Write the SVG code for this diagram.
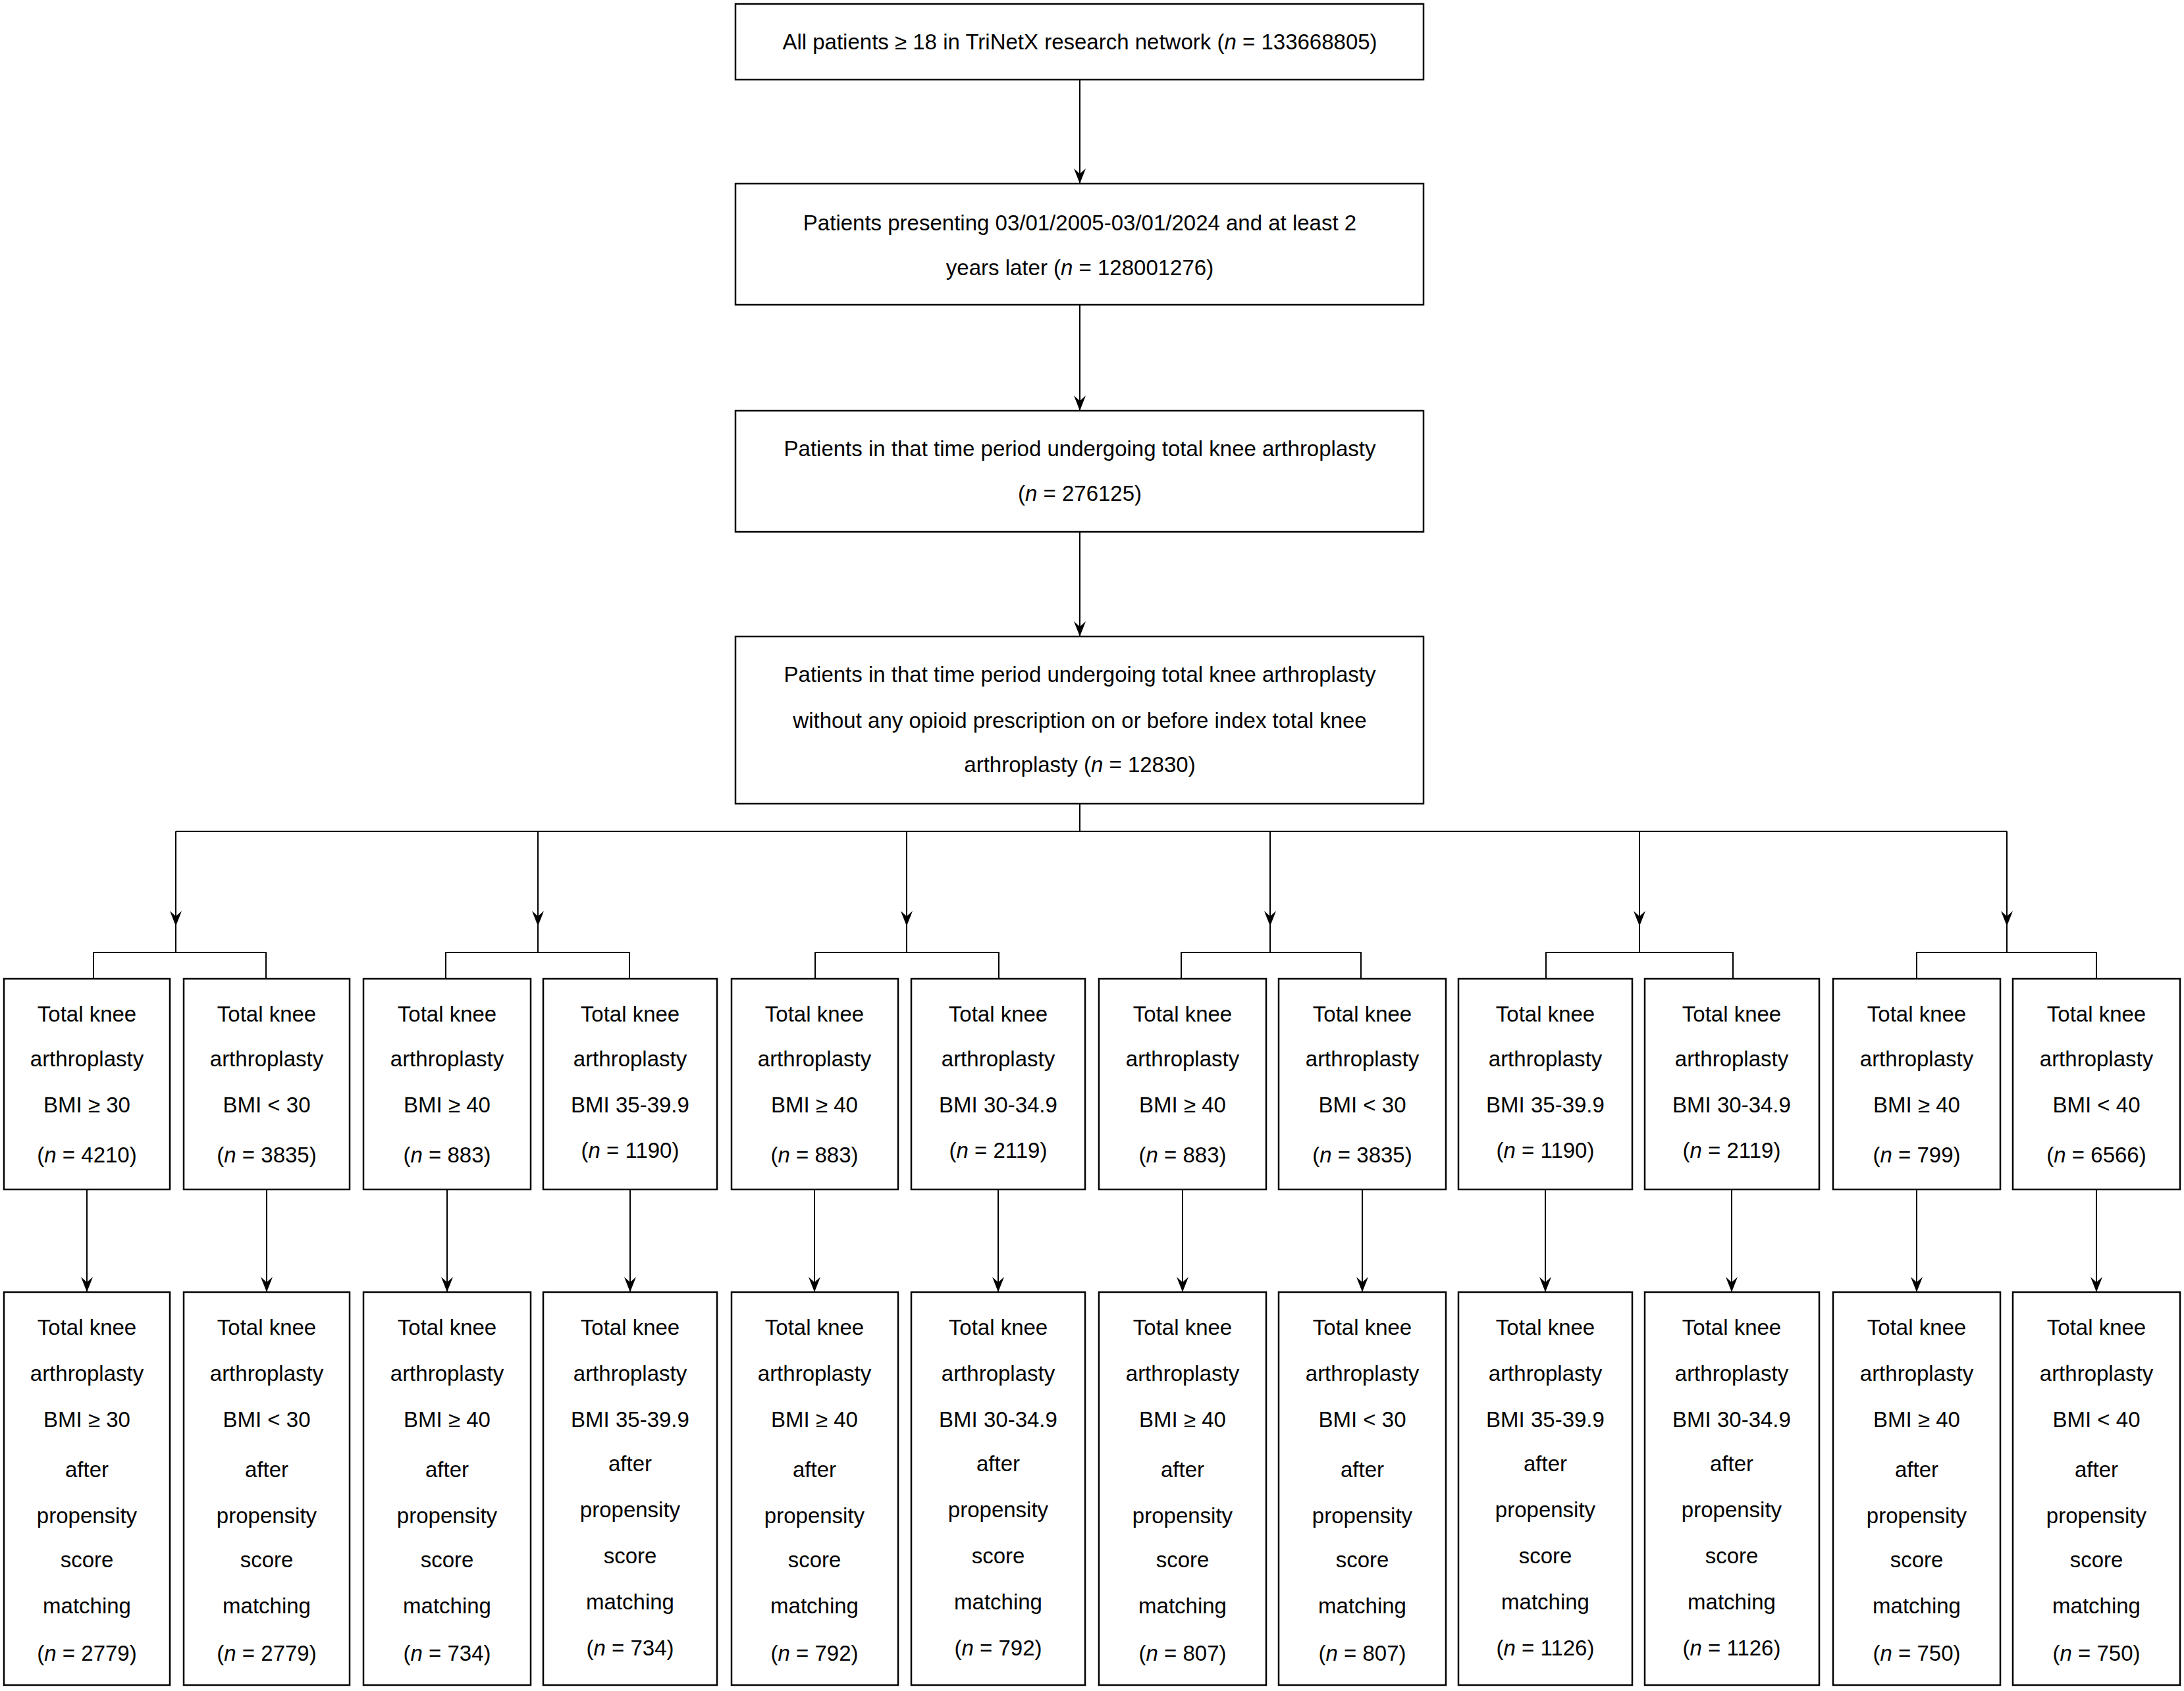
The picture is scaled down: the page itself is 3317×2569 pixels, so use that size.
<svg xmlns="http://www.w3.org/2000/svg" width="3317" height="2569" viewBox="0 0 3317 2569">
<style>
rect{fill:#fff;stroke:#000;stroke-width:2.5}
text{font-family:"Liberation Sans",Arial,sans-serif;font-size:33px;text-anchor:middle;fill:#000}
.i{font-style:italic}
#connectors line,#connectors polyline{stroke:#000;stroke-width:2;fill:none}
</style>
<defs><marker id="ah" markerWidth="18" markerHeight="24" refX="9" refY="23" orient="0" markerUnits="userSpaceOnUse"><path d="M0,0 L9,23 L18,0 L9,8 Z" fill="#000"/></marker></defs>
<rect width="3317" height="2569" style="stroke:none"/>
<g id="connectors">
<line x1="1640" y1="121" x2="1640" y2="279" marker-end="url(#ah)"/>
<line x1="1640" y1="463" x2="1640" y2="624" marker-end="url(#ah)"/>
<line x1="1640" y1="808" x2="1640" y2="967" marker-end="url(#ah)"/>
<line x1="1640" y1="1221" x2="1640" y2="1263"/>
<line x1="267" y1="1263" x2="3048" y2="1263"/>
<line x1="267" y1="1263" x2="267" y2="1407" marker-end="url(#ah)"/>
<line x1="817" y1="1263" x2="817" y2="1407" marker-end="url(#ah)"/>
<line x1="1377" y1="1263" x2="1377" y2="1407" marker-end="url(#ah)"/>
<line x1="1929" y1="1263" x2="1929" y2="1407" marker-end="url(#ah)"/>
<line x1="2490" y1="1263" x2="2490" y2="1407" marker-end="url(#ah)"/>
<line x1="3048" y1="1263" x2="3048" y2="1407" marker-end="url(#ah)"/>
<line x1="267" y1="1407" x2="267" y2="1447"/>
<line x1="817" y1="1407" x2="817" y2="1447"/>
<line x1="1377" y1="1407" x2="1377" y2="1447"/>
<line x1="1929" y1="1407" x2="1929" y2="1447"/>
<line x1="2490" y1="1407" x2="2490" y2="1447"/>
<line x1="3048" y1="1407" x2="3048" y2="1447"/>
<polyline points="142,1487 142,1447 404,1447 404,1487"/>
<polyline points="677,1487 677,1447 956,1447 956,1487"/>
<polyline points="1238,1487 1238,1447 1517,1447 1517,1487"/>
<polyline points="1794,1487 1794,1447 2067,1447 2067,1487"/>
<polyline points="2348,1487 2348,1447 2632,1447 2632,1487"/>
<polyline points="2911,1487 2911,1447 3184,1447 3184,1487"/>
<line x1="132" y1="1807" x2="132" y2="1963" marker-end="url(#ah)"/>
<line x1="405" y1="1807" x2="405" y2="1963" marker-end="url(#ah)"/>
<line x1="679" y1="1807" x2="679" y2="1963" marker-end="url(#ah)"/>
<line x1="957" y1="1807" x2="957" y2="1963" marker-end="url(#ah)"/>
<line x1="1237" y1="1807" x2="1237" y2="1963" marker-end="url(#ah)"/>
<line x1="1516" y1="1807" x2="1516" y2="1963" marker-end="url(#ah)"/>
<line x1="1796" y1="1807" x2="1796" y2="1963" marker-end="url(#ah)"/>
<line x1="2069" y1="1807" x2="2069" y2="1963" marker-end="url(#ah)"/>
<line x1="2347" y1="1807" x2="2347" y2="1963" marker-end="url(#ah)"/>
<line x1="2630" y1="1807" x2="2630" y2="1963" marker-end="url(#ah)"/>
<line x1="2911" y1="1807" x2="2911" y2="1963" marker-end="url(#ah)"/>
<line x1="3184" y1="1807" x2="3184" y2="1963" marker-end="url(#ah)"/>
</g>
<g id="n1"><rect x="1117" y="6" width="1045" height="115"/><text x="1640" y="75">All patients ≥ 18 in TriNetX research network (<tspan class="i">n</tspan> = 133668805)</text></g>
<g id="n2"><rect x="1117" y="279" width="1045" height="184"/><text x="1640" y="350">Patients presenting 03/01/2005-03/01/2024 and at least 2</text><text x="1640" y="418">years later (<tspan class="i">n</tspan> = 128001276)</text></g>
<g id="n3"><rect x="1117" y="624" width="1045" height="184"/><text x="1640" y="693">Patients in that time period undergoing total knee arthroplasty</text><text x="1640" y="761">(<tspan class="i">n</tspan> = 276125)</text></g>
<g id="n4"><rect x="1117" y="967" width="1045" height="254"/><text x="1640" y="1036">Patients in that time period undergoing total knee arthroplasty</text><text x="1640" y="1106">without any opioid prescription on or before index total knee</text><text x="1640" y="1173">arthroplasty (<tspan class="i">n</tspan> = 12830)</text></g>
<g id="s1"><rect x="6" y="1487" width="252" height="320"/><text x="132" y="1552">Total knee</text><text x="132" y="1620">arthroplasty</text><text x="132" y="1690">BMI ≥ 30</text><text x="132" y="1766">(<tspan class="i">n</tspan> = 4210)</text></g>
<g id="s2"><rect x="279" y="1487" width="252" height="320"/><text x="405" y="1552">Total knee</text><text x="405" y="1620">arthroplasty</text><text x="405" y="1690">BMI &lt; 30</text><text x="405" y="1766">(<tspan class="i">n</tspan> = 3835)</text></g>
<g id="s3"><rect x="552" y="1487" width="254" height="320"/><text x="679" y="1552">Total knee</text><text x="679" y="1620">arthroplasty</text><text x="679" y="1690">BMI ≥ 40</text><text x="679" y="1766">(<tspan class="i">n</tspan> = 883)</text></g>
<g id="s4"><rect x="825" y="1487" width="264" height="320"/><text x="957" y="1552">Total knee</text><text x="957" y="1620">arthroplasty</text><text x="957" y="1690">BMI 35-39.9</text><text x="957" y="1759">(<tspan class="i">n</tspan> = 1190)</text></g>
<g id="s5"><rect x="1111" y="1487" width="253" height="320"/><text x="1237" y="1552">Total knee</text><text x="1237" y="1620">arthroplasty</text><text x="1237" y="1690">BMI ≥ 40</text><text x="1237" y="1766">(<tspan class="i">n</tspan> = 883)</text></g>
<g id="s6"><rect x="1384" y="1487" width="264" height="320"/><text x="1516" y="1552">Total knee</text><text x="1516" y="1620">arthroplasty</text><text x="1516" y="1690">BMI 30-34.9</text><text x="1516" y="1759">(<tspan class="i">n</tspan> = 2119)</text></g>
<g id="s7"><rect x="1669" y="1487" width="254" height="320"/><text x="1796" y="1552">Total knee</text><text x="1796" y="1620">arthroplasty</text><text x="1796" y="1690">BMI ≥ 40</text><text x="1796" y="1766">(<tspan class="i">n</tspan> = 883)</text></g>
<g id="s8"><rect x="1942" y="1487" width="254" height="320"/><text x="2069" y="1552">Total knee</text><text x="2069" y="1620">arthroplasty</text><text x="2069" y="1690">BMI &lt; 30</text><text x="2069" y="1766">(<tspan class="i">n</tspan> = 3835)</text></g>
<g id="s9"><rect x="2215" y="1487" width="264" height="320"/><text x="2347" y="1552">Total knee</text><text x="2347" y="1620">arthroplasty</text><text x="2347" y="1690">BMI 35-39.9</text><text x="2347" y="1759">(<tspan class="i">n</tspan> = 1190)</text></g>
<g id="s10"><rect x="2498" y="1487" width="265" height="320"/><text x="2630" y="1552">Total knee</text><text x="2630" y="1620">arthroplasty</text><text x="2630" y="1690">BMI 30-34.9</text><text x="2630" y="1759">(<tspan class="i">n</tspan> = 2119)</text></g>
<g id="s11"><rect x="2784" y="1487" width="254" height="320"/><text x="2911" y="1552">Total knee</text><text x="2911" y="1620">arthroplasty</text><text x="2911" y="1690">BMI ≥ 40</text><text x="2911" y="1766">(<tspan class="i">n</tspan> = 799)</text></g>
<g id="s12"><rect x="3057" y="1487" width="254" height="320"/><text x="3184" y="1552">Total knee</text><text x="3184" y="1620">arthroplasty</text><text x="3184" y="1690">BMI &lt; 40</text><text x="3184" y="1766">(<tspan class="i">n</tspan> = 6566)</text></g>
<g id="b1"><rect x="6" y="1963" width="252" height="597"/><text x="132" y="2028">Total knee</text><text x="132" y="2098">arthroplasty</text><text x="132" y="2168">BMI ≥ 30</text><text x="132" y="2244">after</text><text x="132" y="2314">propensity</text><text x="132" y="2381">score</text><text x="132" y="2451">matching</text><text x="132" y="2523">(<tspan class="i">n</tspan> = 2779)</text></g>
<g id="b2"><rect x="279" y="1963" width="252" height="597"/><text x="405" y="2028">Total knee</text><text x="405" y="2098">arthroplasty</text><text x="405" y="2168">BMI &lt; 30</text><text x="405" y="2244">after</text><text x="405" y="2314">propensity</text><text x="405" y="2381">score</text><text x="405" y="2451">matching</text><text x="405" y="2523">(<tspan class="i">n</tspan> = 2779)</text></g>
<g id="b3"><rect x="552" y="1963" width="254" height="597"/><text x="679" y="2028">Total knee</text><text x="679" y="2098">arthroplasty</text><text x="679" y="2168">BMI ≥ 40</text><text x="679" y="2244">after</text><text x="679" y="2314">propensity</text><text x="679" y="2381">score</text><text x="679" y="2451">matching</text><text x="679" y="2523">(<tspan class="i">n</tspan> = 734)</text></g>
<g id="b4"><rect x="825" y="1963" width="264" height="597"/><text x="957" y="2028">Total knee</text><text x="957" y="2098">arthroplasty</text><text x="957" y="2168">BMI 35-39.9</text><text x="957" y="2235">after</text><text x="957" y="2305">propensity</text><text x="957" y="2375">score</text><text x="957" y="2445">matching</text><text x="957" y="2515">(<tspan class="i">n</tspan> = 734)</text></g>
<g id="b5"><rect x="1111" y="1963" width="253" height="597"/><text x="1237" y="2028">Total knee</text><text x="1237" y="2098">arthroplasty</text><text x="1237" y="2168">BMI ≥ 40</text><text x="1237" y="2244">after</text><text x="1237" y="2314">propensity</text><text x="1237" y="2381">score</text><text x="1237" y="2451">matching</text><text x="1237" y="2523">(<tspan class="i">n</tspan> = 792)</text></g>
<g id="b6"><rect x="1384" y="1963" width="264" height="597"/><text x="1516" y="2028">Total knee</text><text x="1516" y="2098">arthroplasty</text><text x="1516" y="2168">BMI 30-34.9</text><text x="1516" y="2235">after</text><text x="1516" y="2305">propensity</text><text x="1516" y="2375">score</text><text x="1516" y="2445">matching</text><text x="1516" y="2515">(<tspan class="i">n</tspan> = 792)</text></g>
<g id="b7"><rect x="1669" y="1963" width="254" height="597"/><text x="1796" y="2028">Total knee</text><text x="1796" y="2098">arthroplasty</text><text x="1796" y="2168">BMI ≥ 40</text><text x="1796" y="2244">after</text><text x="1796" y="2314">propensity</text><text x="1796" y="2381">score</text><text x="1796" y="2451">matching</text><text x="1796" y="2523">(<tspan class="i">n</tspan> = 807)</text></g>
<g id="b8"><rect x="1942" y="1963" width="254" height="597"/><text x="2069" y="2028">Total knee</text><text x="2069" y="2098">arthroplasty</text><text x="2069" y="2168">BMI &lt; 30</text><text x="2069" y="2244">after</text><text x="2069" y="2314">propensity</text><text x="2069" y="2381">score</text><text x="2069" y="2451">matching</text><text x="2069" y="2523">(<tspan class="i">n</tspan> = 807)</text></g>
<g id="b9"><rect x="2215" y="1963" width="264" height="597"/><text x="2347" y="2028">Total knee</text><text x="2347" y="2098">arthroplasty</text><text x="2347" y="2168">BMI 35-39.9</text><text x="2347" y="2235">after</text><text x="2347" y="2305">propensity</text><text x="2347" y="2375">score</text><text x="2347" y="2445">matching</text><text x="2347" y="2515">(<tspan class="i">n</tspan> = 1126)</text></g>
<g id="b10"><rect x="2498" y="1963" width="265" height="597"/><text x="2630" y="2028">Total knee</text><text x="2630" y="2098">arthroplasty</text><text x="2630" y="2168">BMI 30-34.9</text><text x="2630" y="2235">after</text><text x="2630" y="2305">propensity</text><text x="2630" y="2375">score</text><text x="2630" y="2445">matching</text><text x="2630" y="2515">(<tspan class="i">n</tspan> = 1126)</text></g>
<g id="b11"><rect x="2784" y="1963" width="254" height="597"/><text x="2911" y="2028">Total knee</text><text x="2911" y="2098">arthroplasty</text><text x="2911" y="2168">BMI ≥ 40</text><text x="2911" y="2244">after</text><text x="2911" y="2314">propensity</text><text x="2911" y="2381">score</text><text x="2911" y="2451">matching</text><text x="2911" y="2523">(<tspan class="i">n</tspan> = 750)</text></g>
<g id="b12"><rect x="3057" y="1963" width="254" height="597"/><text x="3184" y="2028">Total knee</text><text x="3184" y="2098">arthroplasty</text><text x="3184" y="2168">BMI &lt; 40</text><text x="3184" y="2244">after</text><text x="3184" y="2314">propensity</text><text x="3184" y="2381">score</text><text x="3184" y="2451">matching</text><text x="3184" y="2523">(<tspan class="i">n</tspan> = 750)</text></g>
</svg>
